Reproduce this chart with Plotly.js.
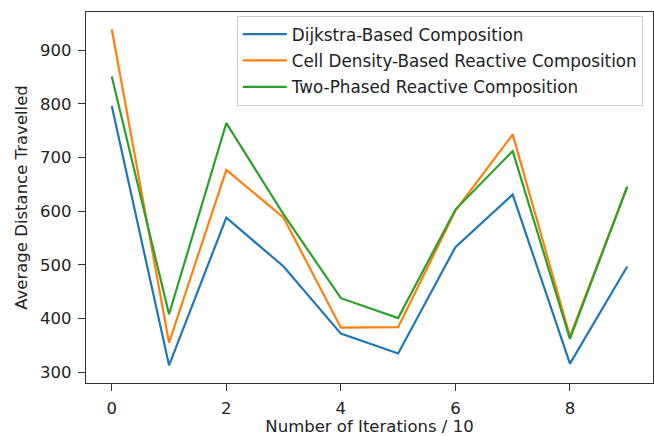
<!DOCTYPE html>
<html>
<head>
<meta charset="utf-8">
<script src="https://cdn.plot.ly/plotly-3.0.1.min.js"></script>
<style>html,body{margin:0;padding:0;background:#fff;}#chart{width:654px;height:436px;}</style>
</head>
<body>
<div id="chart"></div>
<script>
const iterations = [0, 1, 2, 3, 4, 5, 6, 7, 8, 9];
const dijkstra = [796, 313, 588, 497, 372, 335, 533, 631, 316, 497];
const cellDensity = [939, 355, 677, 588, 383, 384, 601, 743, 367, 645];
const twoPhased = [851, 408, 764, 594, 438, 401, 603, 712, 362, 646];
const seriesNames = ["Dijkstra-Based Composition", "Cell Density-Based Reactive Composition", "Two-Phased Reactive Composition"];
const xTicks = [0, 2, 4, 6, 8];
const yTicks = [300, 400, 500, 600, 700, 800, 900];

const colors = ["#1f77b4", "#ff7f0e", "#2ca02c"];
const data = [dijkstra, cellDensity, twoPhased].map((ys, i) => ({
  x: iterations, y: ys, type: "scatter", mode: "lines", name: seriesNames[i],
  legendgroup: "g" + i,
  line: {color: colors[i], width: 2.2}
}));

const font = {family: "DejaVu Sans", size: 16.5, color: "#222"};
const layout = {
  width: 654, height: 436,
  margin: {l: 86, r: 1, t: 12, b: 53},
  paper_bgcolor: "#fff", plot_bgcolor: "#fff",
  font: font,
  showlegend: true,
  legend: {x: 0.266, y: 0.99, xanchor: "left", yanchor: "top",
    bgcolor: "rgba(255,255,255,0.9)", bordercolor: "#ccc", borderwidth: 1,
    font: {family: "DejaVu Sans", size: 16.8, color: "#222"}, tracegroupgap: 1.5, itemwidth: 44},
  xaxis: {range: [-0.45, 9.45], tickvals: xTicks, ticks: "outside", ticklen: 7, tickcolor: "#333",
    ticklabelstandoff: 3,
    showline: true, linecolor: "#333", linewidth: 1.2, mirror: true, showgrid: false, zeroline: false,
    title: {text: "Number of Iterations / 10", font: font, standoff: 6}},
  yaxis: {range: [280, 971], tickvals: yTicks, ticks: "outside", ticklen: 7, tickcolor: "#333",
    ticklabelstandoff: 3,
    showline: true, linecolor: "#333", linewidth: 1.2, mirror: true, showgrid: false, zeroline: false,
    title: {text: "Average Distance Travelled", font: font, standoff: 8}}
};
Plotly.newPlot("chart", data, layout, {displayModeBar: false, staticPlot: true});
</script>
</body>
</html>
